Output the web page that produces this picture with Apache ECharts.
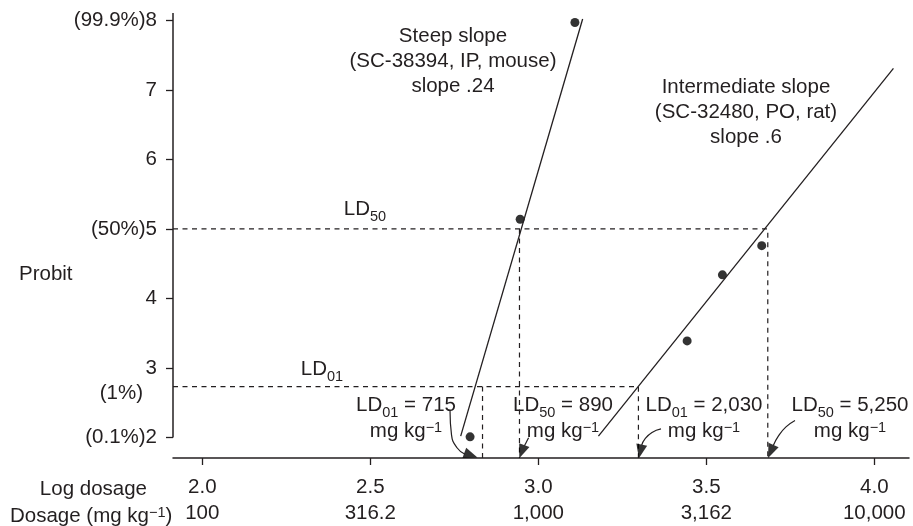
<!DOCTYPE html>
<html>
<head>
<meta charset="utf-8">
<title>Probit vs log dosage</title>
<script src="https://cdn.jsdelivr.net/npm/echarts@6/dist/echarts.min.js"></script>
<style>
  html, body { margin: 0; padding: 0; background: #fff; }
  #chart { width: 913px; height: 526px; }
</style>
</head>
<body>
<div id="chart"></div>
<script>
// axis ticks
const logTicks = [2.0, 2.5, 3.0, 3.5, 4.0];
const logTickLabels = ['2.0', '2.5', '3.0', '3.5', '4.0'];
const doseTickLabels = ['100', '316.2', '1,000', '3,162', '10,000'];
const probitTicks = [2, 3, 4, 5, 6, 7, 8];
const probitTickLabels = ['(0.1%)2', '3', '4', '(50%)5', '6', '7', '(99.9%)8'];

// observed points (log dose, probit)
const steepLog = [2.797, 2.946, 3.109];
const steepProbit = [2.01, 5.14, 7.97];
const interLog = [3.443, 3.548, 3.665];
const interProbit = [3.39, 4.34, 4.76];

// fitted lines (end points)
const steepFitLog = [2.769, 3.132];
const steepFitProbit = [2.02, 8.02];
const interFitLog = [3.179, 4.057];
const interFitProbit = [2.02, 7.31];

// LD reference levels and read-offs
const ld50Probit = 5;
const ld01Probit = 2.733;
const ldNames = ['01', '50', '01', '50'];
const ldValues = ['715', '890', '2,030', '5,250'];
const ldLog = [2.834, 2.944, 3.298, 3.683];

const xMin = 1.9128, xMax = 4.1033;
const yMin = 1.706, yMax = 8.106;

const ink = '#231f20';
const font = "'Liberation Sans', Arial, Helvetica, sans-serif";
const fs = 20.5;

const rich = {
  t: { fontSize: fs, lineHeight: 30, fill: ink, color: ink, fontFamily: font },
  sub: { fontSize: 14.5, lineHeight: 13, verticalAlign: 'bottom', fill: ink, color: ink, fontFamily: font },
  u: { fontSize: fs, lineHeight: 21, fill: ink, color: ink, fontFamily: font },
  sup: { fontSize: 14.5, lineHeight: 10, verticalAlign: 'top', fill: ink, color: ink, fontFamily: font }
};

function dashed(points) {
  return {
    type: 'line', data: points, symbol: 'none', silent: true, clip: false,
    lineStyle: { color: ink, width: 1.2, type: [5, 4.5] }, z: 1
  };
}

// text notes, anchored in data space
const notes = [
  { value: [2.746, 7.421], text: 'Steep slope\n(SC-38394, IP, mouse)\nslope .24', lh: 25 },
  { value: [3.618, 6.684], text: 'Intermediate slope\n(SC-32480, PO, rat)\nslope .6', lh: 25 },
  { value: [2.4842, 5.289], text: '{t|LD}{sub|50}' },
  { value: [2.3554, 2.99], text: '{t|LD}{sub|01}' }
];
const ldLabelLog = [2.6077, 3.0735, 3.4917, 3.9286];
ldLabelLog.forEach((x, i) => {
  notes.push({
    value: [x, 2.313],
    text: '{t|LD}{sub|' + ldNames[i] + '}{t| = ' + ldValues[i] + '}\n{u|mg kg}{sup|\u22121}'
  });
});

// curved arrows from the LD labels down to the axis: a smooth stem and a rotated head
const arrowStems = [
  [[2.7372, 2.396], [2.7417, 2.039], [2.7580, 1.853], [2.7818, 1.760]],
  [[2.9711, 1.996], [2.9589, 1.881]],
  [[3.3652, 2.124], [3.3384, 2.074], [3.3176, 1.981], [3.3077, 1.891]],
  [[3.7640, 2.246], [3.7372, 2.153], [3.7149, 2.024], [3.6994, 1.886]]
];
const arrowHeads = [
  { value: [2.7994, 1.746], symbolRotate: -110 },
  { value: [2.9509, 1.797], symbolRotate: 159 },
  { value: [3.3036, 1.801], symbolRotate: 168 },
  { value: [3.6920, 1.800], symbolRotate: 157 }
];

const chart = echarts.init(document.getElementById('chart'));

const axisTitles = [
  { type: 'text', x: 19, y: 274, style: { text: 'Probit', fontSize: fs, fontFamily: font, fill: ink, verticalAlign: 'middle' } },
  { type: 'text', x: 143, y: 393, style: { text: '(1%)', fontSize: fs, fontFamily: font, fill: ink, align: 'right', verticalAlign: 'middle' } },
  { type: 'text', x: 147, y: 489, style: { text: 'Log dosage', fontSize: fs, fontFamily: font, fill: ink, align: 'right', verticalAlign: 'middle' } },
  {
    type: 'text', x: 10, y: 516,
    style: { text: '{u|Dosage (mg kg}{sup|\u22121}{u|)}', rich: rich, fill: ink, verticalAlign: 'middle' }
  }
];

const option = {
  animation: false,
  textStyle: { fontFamily: font, color: ink },
  grid: { left: 173, right: 4, top: 13, bottom: 65 },
  xAxis: {
    type: 'value', min: xMin, max: xMax,
    axisLine: { show: true, lineStyle: { color: ink, width: 1.5 } },
    axisTick: { show: true, customValues: logTicks, length: 7, lineStyle: { color: ink, width: 1.3 } },
    axisLabel: {
      customValues: logTicks, margin: 16, fontSize: fs, lineHeight: 26, color: ink,
      formatter: v => {
        const i = logTicks.indexOf(v);
        return logTickLabels[i] + '\n' + doseTickLabels[i];
      }
    },
    splitLine: { show: false }
  },
  yAxis: {
    type: 'value', min: yMin, max: yMax,
    axisLine: { show: false },
    axisTick: { show: true, customValues: probitTicks, length: 7, lineStyle: { color: ink, width: 1.3 } },
    axisLabel: {
      customValues: probitTicks, margin: 16, fontSize: fs, color: ink,
      formatter: v => probitTickLabels[probitTicks.indexOf(v)]
    },
    splitLine: { show: false }
  },
  graphic: axisTitles,
  series: [
    // y axis line, stops at probit 2
    {
      type: 'line', data: [[xMin, 2], [xMin, yMax]], symbol: 'none', silent: true, clip: false,
      lineStyle: { color: ink, width: 1.5 }
    },
    dashed([[xMin, ld50Probit], [ldLog[3], ld50Probit], [ldLog[3], yMin]]),
    dashed([[xMin, ld01Probit], [ldLog[2], ld01Probit], [ldLog[2], yMin]]),
    dashed([[ldLog[0], ld01Probit], [ldLog[0], yMin]]),
    dashed([[ldLog[1], ld50Probit], [ldLog[1], yMin]]),
    {
      type: 'line', symbol: 'none', silent: true,
      data: steepFitLog.map((x, i) => [x, steepFitProbit[i]]),
      lineStyle: { color: ink, width: 1.3 }
    },
    {
      type: 'line', symbol: 'none', silent: true,
      data: interFitLog.map((x, i) => [x, interFitProbit[i]]),
      lineStyle: { color: ink, width: 1.3 }
    },
    {
      type: 'scatter', symbolSize: 9, itemStyle: { color: '#000' }, silent: true,
      data: steepLog.map((x, i) => [x, steepProbit[i]]).concat(interLog.map((x, i) => [x, interProbit[i]]))
    },
    ...arrowStems.map(pts => ({
      type: 'line', data: pts, smooth: 0.5, symbol: 'none', silent: true, clip: false,
      lineStyle: { color: ink, width: 1.2 }
    })),
    {
      type: 'scatter', symbol: 'triangle', symbolSize: [11, 14], silent: true, clip: false,
      itemStyle: { color: '#000' },
      data: arrowHeads
    }
  ]
};

chart.setOption(option);

// place the notes through the axis scales, snapped to whole pixels so the text stays crisp
const noteTexts = notes.map(n => {
  const p = chart.convertToPixel({ gridIndex: 0 }, n.value);
  return {
    type: 'text', x: Math.round(p[0]), y: Math.round(p[1]), silent: true,
    style: {
      text: n.text, rich: rich, fontSize: fs, fontFamily: font, fill: ink,
      lineHeight: n.lh || undefined, align: 'center', verticalAlign: 'middle'
    }
  };
});
chart.setOption({ graphic: axisTitles.concat(noteTexts) });
</script>
</body>
</html>
